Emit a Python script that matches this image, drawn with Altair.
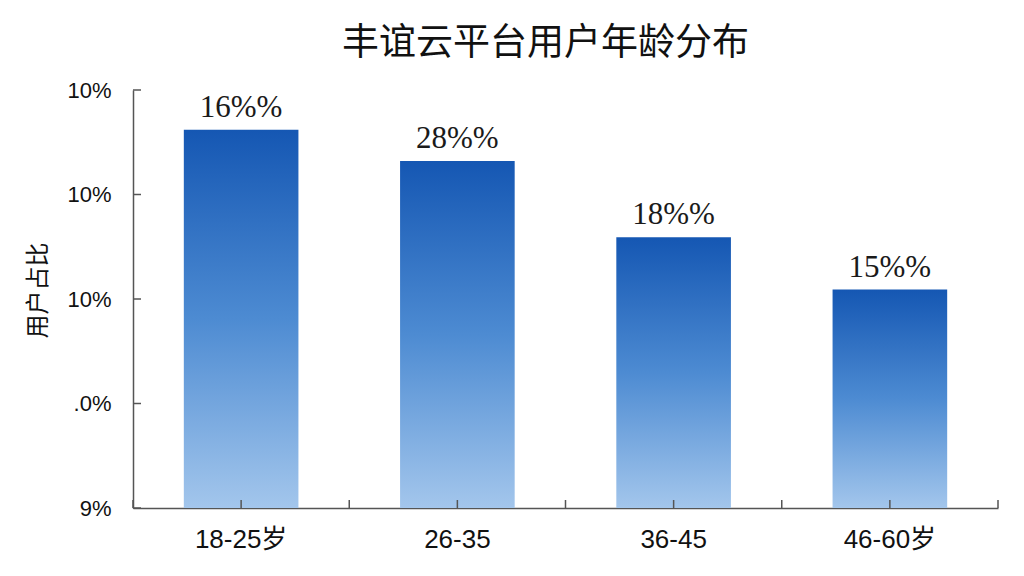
import json
import altair as alt
import pandas as pd

title_text = "丰谊云平台用户年龄分布"
y_title = "用户占比"
categories = ["18-25岁", "26-35", "36-45", "46-60岁"]
values = [3.62, 3.32, 2.59, 2.09]
bar_labels = ["16%%", "28%%", "18%%", "15%%"]
y_tick_values = [0, 1, 2, 3, 4]
y_tick_labels = ["9%", ".0%", "10%", "10%", "10%"]

df = pd.DataFrame({"cat": categories, "val": values, "lab": bar_labels})
ticks_df = pd.DataFrame({"t": y_tick_values})
last_df = df.iloc[[-1]]

W, H = 865, 418
AXIS_COLOR = "#555555"
LATIN = "Liberation Sans, Noto Sans CJK SC"

label_expr = json.dumps(y_tick_labels) + "[datum.value]"

xscale = alt.Scale(paddingInner=0, paddingOuter=0)
yscale = alt.Scale(domain=[0, 4], nice=False, zero=True)

x_enc = alt.X(
    "cat:N", sort=categories, scale=xscale,
    axis=alt.Axis(
        title=None, labelAngle=0, labelFontSize=26, labelFont=LATIN,
        labelColor="#111111", labelPadding=18, ticks=False,
        domainColor=AXIS_COLOR, domainWidth=1.5,
    ),
)
y_enc = alt.Y(
    "val:Q", scale=yscale,
    axis=alt.Axis(
        title=y_title, values=y_tick_values, labelExpr=label_expr,
        labelFontSize=22, labelFont=LATIN, labelColor="#111111",
        labelPadding=22, ticks=False, grid=False,
        domainColor=AXIS_COLOR, domainWidth=1.5,
        titleFont="Noto Sans CJK SC", titleFontSize=24, titleFontWeight="normal",
        titleColor="#111111", titleX=-95, titleY=200, titleBaseline="middle",
        titleAngle=270,
    ),
)

grad = alt.Gradient(
    gradient="linear",
    stops=[alt.GradientStop(color="#1557b3", offset=0),
           alt.GradientStop(color="#4d8bd2", offset=0.5),
           alt.GradientStop(color="#a3c6ec", offset=1)],
    x1=0, x2=0, y1=0, y2=1,
)

base = alt.Chart(df)
bars = base.mark_bar(color=grad, width={"band": 0.53}).encode(x=x_enc, y=y_enc)
texts = base.mark_text(
    font="Liberation Serif", fontSize=31, color="#1a1a1a", dy=-13, baseline="alphabetic"
).encode(
    x=alt.X("cat:N", sort=categories, scale=xscale),
    y=alt.Y("val:Q", scale=yscale),
    text="lab:N",
)

y_ticks = alt.Chart(ticks_df).mark_rule(color=AXIS_COLOR, strokeWidth=1.5).encode(
    y=alt.Y("t:Q", scale=yscale), x=alt.value(0), x2=alt.value(8)
)
x_center_ticks = base.mark_rule(color=AXIS_COLOR, strokeWidth=1.5).encode(
    x=alt.X("cat:N", sort=categories, scale=xscale, bandPosition=0.5),
    y=alt.value(H), y2=alt.value(H - 8),
)
x_edge_ticks = base.mark_rule(color=AXIS_COLOR, strokeWidth=1.5).encode(
    x=alt.X("cat:N", sort=categories, scale=xscale, bandPosition=0),
    y=alt.value(H), y2=alt.value(H - 8),
)
x_last_tick = alt.Chart(last_df).mark_rule(color=AXIS_COLOR, strokeWidth=1.5).encode(
    x=alt.X("cat:N", sort=categories, scale=xscale, bandPosition=1),
    y=alt.value(H), y2=alt.value(H - 8),
)

chart = alt.layer(
    bars, texts, y_ticks, x_center_ticks, x_edge_ticks, x_last_tick
).properties(
    width=W, height=H,
    background="white",
    title=alt.TitleParams(
        text=title_text, font="Noto Sans CJK SC", fontSize=37, fontWeight="normal",
        color="#111111", anchor="middle", dx=-20, dy=45, baseline="bottom", offset=24,
    ),
    autosize=alt.AutoSizeParams(type="none"),
    padding={"left": 125, "top": 82, "right": 10, "bottom": 60},
).configure_view(strokeWidth=0, stroke="transparent")

chart.save("out.html", embed_options={"renderer": "svg", "actions": False})
